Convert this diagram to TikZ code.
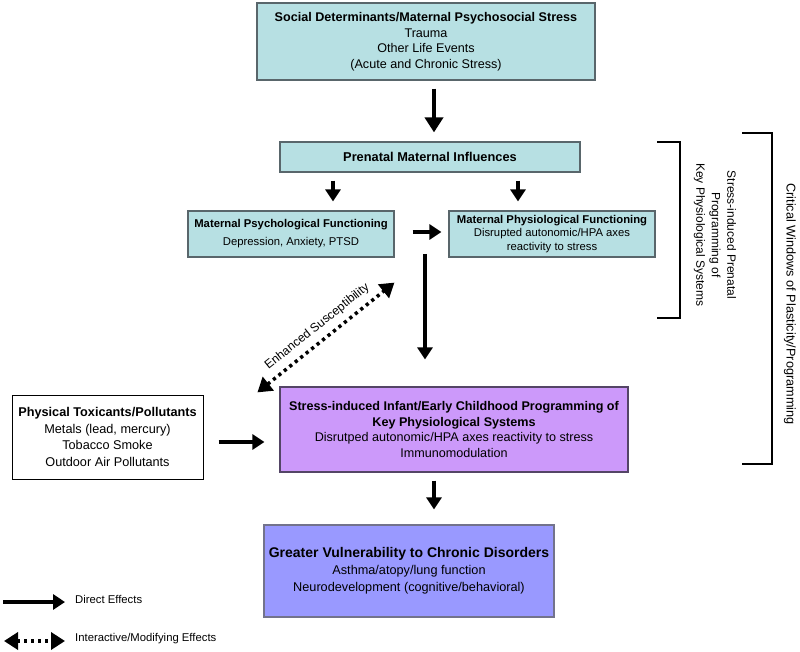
\documentclass[tikz,border=0pt]{standalone}
\usepackage{fontspec}
\setmainfont{Liberation Sans}
\usepackage{tikz}
\usetikzlibrary{arrows.meta}
\definecolor{tealbox}{rgb}{0.718,0.878,0.89}
\definecolor{tealedge}{rgb}{0.35,0.40,0.42}
\definecolor{purplebox}{rgb}{0.80,0.60,0.98}
\definecolor{purpleedge}{rgb}{0.33,0.27,0.40}
\definecolor{bluebox}{rgb}{0.60,0.60,1.}
\definecolor{blueedge}{rgb}{0.45,0.45,0.55}
\tikzset{
  tealnode/.style={draw=tealedge,line width=1.2pt,fill=tealbox,align=center,inner sep=2pt},
  arr/.style={line width=4pt,-{Triangle[length=12pt,width=15pt]}},
  bigarr/.style={line width=4.5pt,-{Triangle[length=15pt,width=18pt]}},
  dotarr/.style={line width=3.5pt,dash pattern=on 3.2pt off 3.8pt,{Triangle[length=14pt,width=17pt]}-{Triangle[length=14pt,width=17pt]}},
  bracket/.style={line width=1.6pt}
}
\begin{document}
\begin{tikzpicture}[line cap=butt,line join=miter,x=1pt,y=-1pt]
\useasboundingbox (0,0) rectangle (800,652);
% boxes
\node[tealnode,minimum width=338pt,minimum height=77pt,font=\fontsize{12.6}{15.5}\selectfont] (stress) at (426,41.5)
  {\textbf{Social Determinants/Maternal Psychosocial Stress}\\Trauma\\Other Life Events\\(Acute and Chronic Stress)};
\node[tealnode,minimum width=300pt,minimum height=30pt,font=\fontsize{12.8}{16}\selectfont\bfseries] (prenatal) at (430,157)
  {Prenatal Maternal Influences};
\node[tealnode,minimum width=206pt,minimum height=46pt,font=\fontsize{11.3}{18}\selectfont] (psych) at (291,234)
  {\textbf{Maternal Psychological Functioning}\\Depression, Anxiety, PTSD};
\node[tealnode,minimum width=206pt,minimum height=46pt,font=\fontsize{11.3}{13.8}\selectfont] (physio) at (552,234)
  {\textbf{Maternal Physiological Functioning}\\Disrupted autonomic/HPA axes\\reactivity to stress};
\node[draw=purpleedge,line width=1.2pt,fill=purplebox,align=center,minimum width=348pt,minimum height=85pt,font=\fontsize{12.6}{15.5}\selectfont] (infant) at (454,429.5)
  {\textbf{Stress-induced Infant/Early Childhood Programming of}\\\textbf{Key Physiological Systems}\\Disrutped autonomic/HPA axes reactivity to stress\\Immunomodulation};
\node[draw=black,line width=1pt,fill=white,align=center,minimum width=191pt,minimum height=84pt,font=\fontsize{12.7}{16.5}\selectfont] (toxic) at (107.5,437)
  {\textbf{Physical Toxicants/Pollutants}\\Metals (lead, mercury)\\Tobacco Smoke\\Outdoor Air Pollutants};
\node[draw=blueedge,line width=1.2pt,fill=bluebox,align=center,minimum width=290pt,minimum height=92pt,font=\fontsize{12.7}{17}\selectfont] (vuln) at (409,571)
  {{\fontsize{14}{18}\selectfont\textbf{Greater Vulnerability to Chronic Disorders}}\\Asthma/atopy/lung function\\Neurodevelopment (cognitive/behavioral)};
% direct effects
\draw[bigarr] ([shift={(8,8)}]stress.south) -- ([shift={(4,-9)}]prenatal.north);
\draw[arr] ([shift={(-97,8)}]prenatal.south) -- ([shift={(42,-9)}]psych.north);
\draw[arr] ([shift={(88,8)}]prenatal.south) -- ([shift={(-34,-9)}]physio.north);
\draw[arr] ([shift={(18,-2)}]psych.east) -- ([shift={(-7,-2)}]physio.west);
\coordinate (drop) at (425,254);
\draw[arr] (drop) -- ([shift={(-29,-27)}]infant.north);
\draw[arr] ([shift={(15,5)}]toxic.east) -- ([shift={(-15,12.5)}]infant.west);
\draw[arr] ([shift={(-20,8)}]infant.south) -- ([shift={(25,-15)}]vuln.north);
% interactive effect
\draw[dotarr] ([shift={(-22,6)}]infant.north west) -- node[sloped,above=3pt,font=\fontsize{12.2}{14}\selectfont] (enh) {Enhanced Susceptibility} ([shift={(-54,25)}]physio.south west);
% windows
\node[rotate=-90,align=center,font=\fontsize{12}{15.5}\selectfont] (prenwin) at (715,235)
  {Stress-induced Prenatal\\Programming of\\Key Physiological Systems};
\draw[bracket] (657,142) -- (680,142) -- (680,318) -- (657,318);
\node[rotate=-90,font=\fontsize{12.7}{14}\selectfont] (critwin) at (790,304)
  {Critical Windows of Plasticity/Programming};
\draw[bracket] (742,133) -- (772,133) -- (772,464) -- (742,464);
% legend
\node[anchor=west,font=\fontsize{11.3}{13}\selectfont,inner sep=0pt] (ldirect) at (75,599) {Direct Effects};
\node[anchor=west,font=\fontsize{11.3}{13}\selectfont,inner sep=0pt] (linter) at (75,639) {Interactive/Modifying Effects};
\draw[arr] ([shift={(-72,3)}]ldirect.west) -- ([shift={(-10,3)}]ldirect.west);
\draw[dotarr] ([shift={(-71,2)}]linter.west) -- ([shift={(-10,2)}]linter.west);
\end{tikzpicture}
\end{document}
